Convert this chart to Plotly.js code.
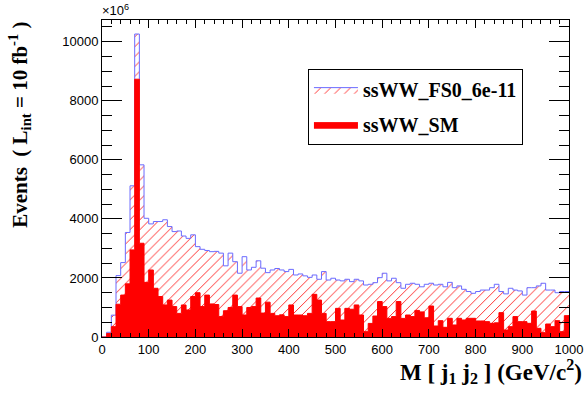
<!DOCTYPE html>
<html>
<head>
<meta charset="utf-8">
<script src="https://cdn.plot.ly/plotly-3.0.1.min.js"></script>
<style>html,body{margin:0;padding:0;background:#fff;}#chart{width:584px;height:394px;}</style>
</head>
<body>
<div id="chart"></div>
<script>
// Histogram: M[j1 j2], 100 bins of 10 GeV from 0 to 1000
const binStart = 0;
const binWidth = 10;

// ssWW_FS0_6e-11 (hatched, blue outline)
const fs0Events = [
  0, 160, 740, 2080, 2520, 3540, 5120, 10260, 5830, 4020,
  3830, 3910, 3910, 3970, 3740, 3570, 3590, 3420, 3340, 3460,
  3060, 2970, 2930, 2890, 2900, 2840, 2410, 2840, 2550, 2160,
  2720, 2270, 2360, 2580, 2330, 2180, 2270, 2320, 2270, 2215,
  2290, 2100, 2135, 2070, 2020, 2100, 1955, 2215, 1930, 1990,
  1930, 1900, 1955, 1875, 1955, 1900, 1760, 1785, 1840, 2010,
  2160, 1900, 1990, 1840, 1650, 1785, 1820, 1785, 1700, 1785,
  1820, 1760, 1785, 1700, 1850, 1670, 1730, 1615, 1540, 1480,
  1540, 1590, 1590, 1670, 1785, 1540, 1460, 1650, 1590, 1560,
  1420, 1670, 1670, 1730, 1820, 1590, 1590, 1500, 1540, 1540
];

// ssWW_SM (solid red)
const smEvents = [
  0, 120, 350, 1110, 1420, 1800, 2950, 8730, 3175, 1850,
  2270, 1650, 1370, 1085, 1250, 1030, 800, 1085, 915, 1370,
  1500, 1030, 1420, 1120, 1100, 690, 890, 1000, 1420, 1030,
  745, 1000, 1030, 1320, 810, 1180, 800, 720, 750, 690,
  1085, 745, 745, 720, 800, 1445, 1250, 800, 520, 520,
  970, 575, 970, 940, 1085, 745, 180, 460, 710, 1200,
  1030, 630, 690, 1200, 630, 745, 690, 900, 850, 650,
  1050, 373, 553, 328, 633, 407, 633, 576, 633, 633,
  543, 543, 520, 463, 480, 825, 237, 350, 690, 520,
  520, 463, 880, 294, 147, 440, 350, 553, 180, 723
];

const seriesNames = ['ssWW_FS0_6e-11', 'ssWW_SM'];
const xTickVals = [0, 100, 200, 300, 400, 500, 600, 700, 800, 900, 1000];
const yTickVals = [0, 2000, 4000, 6000, 8000, 10000];

// step outline: bin low edges plus closing edge
function stepX(vals) {
  const xs = vals.map((v, i) => binStart + i * binWidth);
  xs.push(binStart + vals.length * binWidth);
  return xs;
}
function stepY(vals) {
  const ys = vals.slice();
  ys.push(vals[vals.length - 1]);
  return ys;
}

const traces = [
  {
    type: 'scatter', mode: 'lines', name: seriesNames[0],
    x: stepX(fs0Events), y: stepY(fs0Events),
    line: {shape: 'hv', color: '#6b6bff', width: 1},
    fill: 'tozeroy', fillcolor: 'white',
    fillpattern: {shape: '/', fgcolor: '#ff2020', bgcolor: 'white', size: 7, solidity: 0.13},
    legendgroup: 'a', hoverinfo: 'x+y'
  },
  {
    type: 'scatter', mode: 'lines', name: seriesNames[1],
    x: stepX(smEvents), y: stepY(smEvents),
    line: {shape: 'hv', color: '#ff0000', width: 1},
    fill: 'tozeroy', fillcolor: '#ff0000',
    legendgroup: 'b', hoverinfo: 'x+y'
  }
];

const axisFont = {family: 'Liberation Sans, Arial, sans-serif', size: 13, color: '#000'};
const titleFont = {family: 'Liberation Serif, Times New Roman, serif', size: 23, color: '#000', weight: 'bold'};
const yTitleFont = {family: 'Liberation Serif, Times New Roman, serif', size: 21, color: '#000', weight: 'bold'};

const layout = {
  width: 584, height: 394,
  margin: {l: 102, r: 15, t: 20, b: 57},
  paper_bgcolor: '#fff', plot_bgcolor: '#fff',
  showlegend: true,
  legend: {
    x: 0.441, y: 0.845, xanchor: 'left', yanchor: 'top',
    bgcolor: '#fff', bordercolor: '#000', borderwidth: 1,
    font: {family: 'Liberation Serif, Times New Roman, serif', size: 20, color: '#000', weight: 'bold'},
    tracegroupgap: 6, itemwidth: 44
  },
  xaxis: {
    range: [0, 1000], showgrid: false, zeroline: false,
    showline: true, linecolor: '#000', linewidth: 1, mirror: 'ticks',
    ticks: 'inside', ticklen: 8, tickcolor: '#000',
    tickvals: xTickVals, ticktext: xTickVals.map(String),
    tickfont: axisFont,
    minor: {dtick: 20, ticks: 'inside', ticklen: 4, tickcolor: '#000'}
  },
  yaxis: {
    range: [0, 10735], showgrid: false, zeroline: false,
    showline: true, linecolor: '#000', linewidth: 1, mirror: 'ticks',
    ticks: 'inside', ticklen: 20, tickcolor: '#000',
    tickvals: yTickVals, ticktext: yTickVals.map(String),
    tickfont: axisFont,
    minor: {dtick: 500, ticks: 'inside', ticklen: 10, tickcolor: '#000'}
  },
  annotations: [
    {xref: 'paper', yref: 'paper', x: -0.005, y: 1.0, xanchor: 'left', yanchor: 'bottom',
     text: '×10<sup>6</sup>', showarrow: false, font: axisFont},
    {xref: 'paper', yref: 'paper', x: 1.032, y: -0.11, xanchor: 'right', yanchor: 'middle',
     text: 'M [ j<sub>1</sub> j<sub>2</sub> ] (GeV/c<sup>2</sup>)', showarrow: false, font: titleFont},
    {xref: 'paper', yref: 'paper', x: -0.178, y: 1.0, xanchor: 'center', yanchor: 'top', textangle: -90,
     text: 'Events  ( L<sub>int</sub> = 10 fb<sup>-1</sup> )', showarrow: false, font: yTitleFont}
  ]
};

Plotly.newPlot('chart', traces, layout, {staticPlot: true, displayModeBar: false});
</script>
</body>
</html>
